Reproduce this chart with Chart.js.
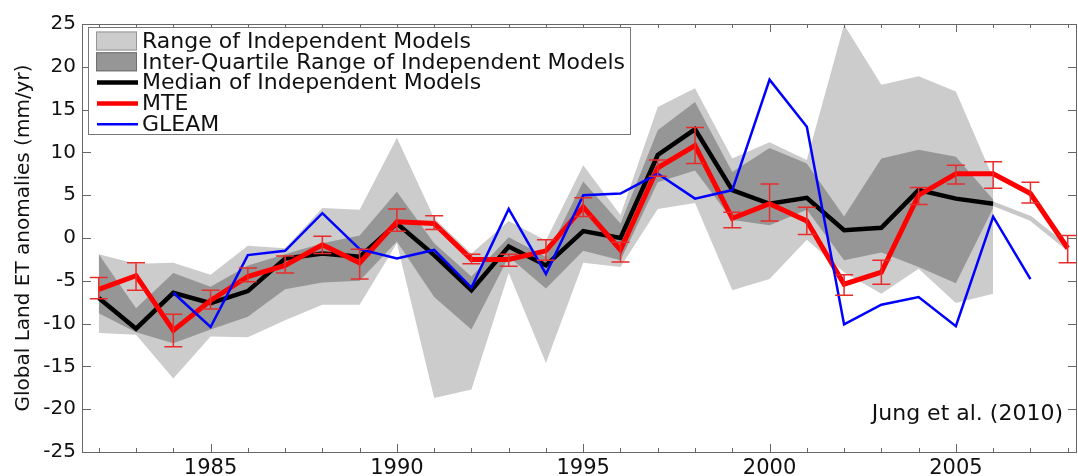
<!DOCTYPE html>
<html>
<head>
<meta charset="utf-8">
<script src="https://cdn.jsdelivr.net/npm/chart.js@4.4.0/dist/chart.umd.min.js"></script>
<style>
html, body { margin: 0; padding: 0; background: #fff; }
</style>
</head>
<body>
<canvas id="myChart-ET" width="1078" height="476"></canvas>
<script>
// years
var years = [1982, 1983, 1984, 1985, 1986, 1987, 1988, 1989, 1990, 1991, 1992, 1993, 1994,
    1995, 1996, 1997, 1998, 1999, 2000, 2001, 2002, 2003, 2004, 2005, 2006, 2007, 2008];
var modelYears = [1982, 1983, 1984, 1985, 1986, 1987, 1988, 1989, 1990, 1991, 1992, 1993, 1994,
    1995, 1996, 1997, 1998, 1999, 2000, 2001, 2002, 2003, 2004, 2005, 2006];
var tailYears = [2006, 2007, 2008];
var gleamYears = [1984, 1985, 1986, 1987, 1988, 1989, 1990, 1991, 1992, 1993, 1994, 1995,
    1996, 1997, 1998, 1999, 2000, 2001, 2002, 2003, 2004, 2005, 2006, 2007];

// independent models (1982-2006)
var rangeHigh = [-1.9, -3.0, -2.9, -4.3, -0.9, -1.2, 3.5, 3.3, 11.7, 2.3, -1.8, 2.0, -0.3,
    8.5, 2.7, 15.3, 17.5, 9.3, 11.2, 9.1, 24.9, 17.9, 18.9, 17.1, 7.0];
var rangeLow = [-11.1, -11.3, -16.4, -11.5, -11.6, -9.6, -7.8, -7.8, -0.6, -18.7, -17.7, -4.1, -14.6,
    -2.9, -3.4, 3.4, 4.1, -6.1, -4.8, -0.2, -4.0, -6.5, -3.6, -7.6, -6.5];
var iqrHigh = [-1.9, -8.2, -4.1, -5.7, -3.2, -1.9, -0.6, 0.3, 5.4, -0.6, -4.5, 0.1, -2.2,
    6.6, 1.7, 12.6, 15.9, 7.7, 10.5, 8.7, 2.5, 9.3, 10.3, 9.5, 4.5];
var iqrLow = [-8.8, -11.0, -12.3, -10.7, -9.2, -6.0, -5.2, -5.0, -0.4, -6.9, -10.7, -2.2, -5.9,
    -1.5, -2.6, 6.5, 7.9, 2.1, 1.5, 3.3, -2.6, -1.7, -3.4, -5.3, 3.5];
var medianModels = [-7.0, -10.6, -6.4, -7.6, -6.2, -2.4, -1.8, -2.2, 1.7, -2.0, -6.1, -1.0, -3.2,
    0.8, 0.0, 9.7, 12.7, 5.6, 4.0, 4.7, 0.9, 1.2, 5.6, 4.6, 4.0];
var medianTail = [4.0, 2.3, -1.2];

// MTE (1982-2008) with error bars
var mte = [-6.0, -4.4, -10.8, -7.3, -4.5, -3.2, -0.8, -2.9, 1.9, 1.7, -2.5, -2.5, -1.5,
    3.6, -1.4, 8.2, 10.8, 2.3, 4.0, 2.0, -5.4, -4.0, 5.0, 7.5, 7.5, 5.2, -1.2];
var mteLow = [-7.1, -6.1, -12.7, -8.3, -5.1, -4.1, -1.8, -4.8, 0.8, 1.0, -3.0, -3.3, -2.6,
    2.5, -2.8, 7.2, 8.7, 1.2, 2.0, 0.4, -6.7, -5.4, 3.9, 6.3, 5.8, 4.1, -2.9];
var mteHigh = [-4.6, -2.9, -8.9, -6.1, -3.5, -2.1, 0.2, -1.3, 3.4, 2.6, -1.9, -1.9, -0.2,
    4.7, -0.5, 9.1, 12.9, 3.0, 6.3, 3.6, -4.3, -2.6, 5.9, 8.5, 8.9, 6.5, 0.3];

// GLEAM (1984-2007)
var gleam = [-6.4, -10.4, -2.0, -1.5, 2.9, -1.3, -2.4, -1.4, -5.8, 3.4, -4.2, 5.0,
    5.2, 7.5, 4.6, 5.6, 18.5, 13.0, -10.1, -7.8, -6.9, -10.3, 2.5, -4.8];

var xTickYears = [1985, 1990, 1995, 2000, 2005];
var yTickValues = [-25, -20, -15, -10, -5, 0, 5, 10, 15, 20, 25];

var lightGrey = 'rgb(204,204,204)';
var darkGrey = 'rgb(150,150,150)';
var fontName = '"DejaVu Sans", sans-serif';

function toPoints(xs, ys) {
    return xs.map(function (x, i) { return { x: x, y: ys[i] }; });
}

var dataET = {
    datasets: [
        { label: 'GLEAM', data: toPoints(gleamYears, gleam), borderColor: '#0000ff', borderWidth: 2.5, order: 1 },
        { label: 'MTE', data: toPoints(years, mte), borderColor: '#ff0000', borderWidth: 5, order: 2 },
        { label: 'Median of Independent Models', data: toPoints(modelYears, medianModels), borderColor: '#000000', borderWidth: 4.5, order: 3 },
        { label: 'tail', data: toPoints(tailYears, medianTail), borderColor: 'rgb(200,200,200)', borderWidth: 4.5, order: 4 },
        { label: 'IQR high', data: toPoints(modelYears, iqrHigh), borderWidth: 0, borderColor: 'rgba(0,0,0,0)', backgroundColor: darkGrey, fill: '+1', order: 5 },
        { label: 'IQR low', data: toPoints(modelYears, iqrLow), borderWidth: 0, borderColor: 'rgba(0,0,0,0)', order: 6 },
        { label: 'Range high', data: toPoints(modelYears, rangeHigh), borderWidth: 0, borderColor: 'rgba(0,0,0,0)', backgroundColor: lightGrey, fill: '+1', order: 7 },
        { label: 'Range low', data: toPoints(modelYears, rangeLow), borderWidth: 0, borderColor: 'rgba(0,0,0,0)', order: 8 }
    ]
};

var legendItems = [
    { text: 'Range of Independent Models', type: 'box', color: lightGrey, edge: 'rgb(150,150,150)' },
    { text: 'Inter-Quartile Range of Independent Models', type: 'box', color: darkGrey, edge: 'rgb(110,110,110)' },
    { text: 'Median of Independent Models', type: 'line', color: '#000', width: 4.5 },
    { text: 'MTE', type: 'line', color: '#ff0000', width: 4.5 },
    { text: 'GLEAM', type: 'line', color: '#0000ff', width: 2.5 }
];

var axesPlugin = {
    id: 'axesBox',
    afterDatasetsDraw: function (chart) {
        // MTE error bars
        var xs = chart.scales.x, ys = chart.scales.y, ctx = chart.ctx;
        ctx.save();
        ctx.strokeStyle = '#e82c2c';
        ctx.lineWidth = 1.5;
        years.forEach(function (yr, i) {
            var px = xs.getPixelForValue(yr),
                lo = ys.getPixelForValue(mteLow[i]),
                hi = ys.getPixelForValue(mteHigh[i]);
            ctx.beginPath();
            ctx.moveTo(px, lo); ctx.lineTo(px, hi);
            ctx.moveTo(px - 9, lo); ctx.lineTo(px + 9, lo);
            ctx.moveTo(px - 9, hi); ctx.lineTo(px + 9, hi);
            ctx.stroke();
        });
        ctx.restore();
    },
    afterDraw: function (chart) {
        var a = chart.chartArea, ctx = chart.ctx,
            xs = chart.scales.x, ys = chart.scales.y;
        ctx.save();
        ctx.strokeStyle = '#666';
        ctx.lineWidth = 1;
        ctx.strokeRect(a.left + 0.5, a.top + 0.5, a.right - a.left - 1, a.bottom - a.top);

        // inward ticks, all four sides
        ctx.beginPath();
        years.forEach(function (yr) {
            var px = Math.round(xs.getPixelForValue(yr)) + 0.5;
            var len = (yr % 5 === 0) ? 8 : 4;
            ctx.moveTo(px, a.bottom); ctx.lineTo(px, a.bottom - len);
            ctx.moveTo(px, a.top); ctx.lineTo(px, a.top + len);
        });
        yTickValues.forEach(function (v) {
            var py = Math.round(ys.getPixelForValue(v)) + 0.5;
            ctx.moveTo(a.left, py); ctx.lineTo(a.left + 9, py);
            ctx.moveTo(a.right, py); ctx.lineTo(a.right - 9, py);
        });
        ctx.stroke();

        // legend
        var lx = a.left + 6, ly = a.top + 3, lw = 542, lh = 107, row = 20.8;
        ctx.fillStyle = '#fff';
        ctx.fillRect(lx, ly, lw, lh);
        ctx.strokeStyle = '#777';
        ctx.strokeRect(lx + 0.5, ly + 0.5, lw, lh);
        ctx.font = '22px ' + fontName;
        ctx.textBaseline = 'middle';
        legendItems.forEach(function (item, i) {
            var cy = ly + 14 + i * row;
            if (item.type === 'box') {
                ctx.fillStyle = item.color;
                ctx.fillRect(lx + 8, cy - 9.5, 41, 19);
                ctx.strokeStyle = item.edge;
                ctx.lineWidth = 1;
                ctx.strokeRect(lx + 8.5, cy - 9, 40, 18);
            } else {
                ctx.strokeStyle = item.color;
                ctx.lineWidth = item.width;
                ctx.beginPath();
                ctx.moveTo(lx + 9, cy); ctx.lineTo(lx + 50, cy);
                ctx.stroke();
            }
            ctx.fillStyle = '#111';
            ctx.fillText(item.text, lx + 54, cy + 1);
        });

        // citation
        ctx.font = '22px ' + fontName;
        ctx.textAlign = 'right';
        ctx.fillStyle = '#111';
        ctx.fillText('Jung et al. (2010)', a.right - 14, a.bottom - 38);
        ctx.restore();
    }
};

var chartET = document.getElementById('myChart-ET');
new Chart(chartET, {
    type: 'line',
    data: dataET,
    plugins: [axesPlugin],
    options: {
        responsive: false,
        animation: false,
        layout: { padding: { top: 24, right: 1, left: 0, bottom: 0 } },
        elements: {
            point: { radius: 0, hoverRadius: 0 },
            line: { tension: 0, fill: false, borderJoinStyle: 'miter' }
        },
        plugins: {
            legend: { display: false },
            tooltip: { enabled: false },
            filler: { propagate: false }
        },
        scales: {
            x: {
                type: 'linear',
                min: 1981.55,
                max: 2008.25,
                grid: { display: false, drawTicks: false },
                border: { display: false },
                afterBuildTicks: function (scale) {
                    scale.ticks = xTickYears.map(function (v) { return { value: v }; });
                },
                afterFit: function (scale) { scale.height = 24; },
                ticks: {
                    autoSkip: false,
                    maxRotation: 0,
                    padding: 4,
                    color: '#111',
                    font: { family: fontName, size: 21 },
                    callback: function (v) { return String(v); }
                }
            },
            y: {
                min: -25,
                max: 25,
                grid: { display: false, drawTicks: false },
                border: { display: false },
                afterBuildTicks: function (scale) {
                    scale.ticks = yTickValues.map(function (v) { return { value: v }; });
                },
                afterFit: function (scale) { scale.width = 82; },
                ticks: {
                    padding: 6,
                    color: '#111',
                    font: { family: fontName, size: 20 }
                },
                title: {
                    display: true,
                    text: 'Global Land ET anomalies (mm/yr)',
                    color: '#111',
                    font: { family: fontName, size: 20 },
                    padding: { top: 12, bottom: 0 }
                }
            }
        }
    }
});
</script>
</body>
</html>
